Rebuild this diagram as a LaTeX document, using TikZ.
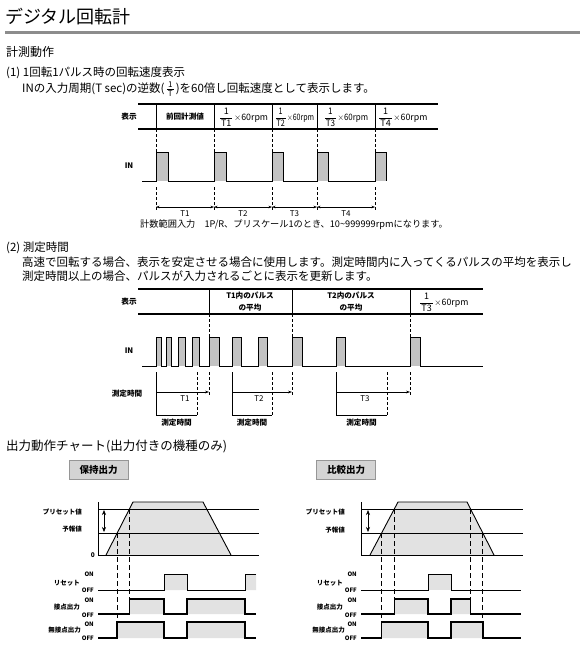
\documentclass[tikz,border=0pt]{standalone}
\usepackage{fontspec}
\setmainfont{Noto Sans CJK JP}
\usetikzlibrary{arrows.meta}
\definecolor{pulsegray}{RGB}{195,195,195}
\definecolor{areagray}{RGB}{226,226,226}
\definecolor{rulegray}{RGB}{140,140,140}
\definecolor{boxgray}{RGB}{212,212,212}
\definecolor{boxedge}{RGB}{150,150,150}
\newcommand\fsz[1]{\fontsize{#1}{#1}\selectfont}
\newcommand\rpmfr[1]{$\displaystyle\frac{\hbox{\fsz{9}1}}{\hbox{\fsz{9}\kern1pt#1\kern1pt}}\kern0.5pt\times$60rpm}
\tikzset{
 txt/.style={anchor=west, inner sep=0pt, font=\fsz{11.5}},
 head/.style={anchor=west, inner sep=0pt, font=\fsz{12}},
 lab/.style={inner sep=0pt, font=\fsz{7.6}\bfseries},
 tlab/.style={inner sep=0pt, font=\fsz{8}},
 flab/.style={inner sep=0pt, font=\fsz{8.8}},
 slab/.style={inner sep=0pt, font=\fsz{6.5}\bfseries, anchor=east},
 onoff/.style={inner sep=0pt, font=\fsz{6}\bfseries, anchor=east},
 displine/.style={line width=1.6pt},
 sep/.style={line width=0.7pt},
 wave/.style={line width=0.9pt},
 vdash/.style={line width=0.6pt, dash pattern=on 3pt off 2pt},
 odash/.style={line width=0.7pt, dash pattern=on 5pt off 3pt},
 dim/.style={line width=0.6pt},
 tip/.style={-{Stealth[length=4pt,width=2.8pt]}},
 tips/.style={{Stealth[length=3.5pt,width=2.6pt]}-{Stealth[length=3.5pt,width=2.6pt]}},
 vtips/.style={{Stealth[length=5pt,width=4pt]}-{Stealth[length=5pt,width=4pt]}},
 sig/.style={line width=1.6pt},
 rst/.style={line width=0.9pt},
 obox/.style={draw=boxedge, fill=boxgray, line width=0.8pt, minimum width=59pt, minimum height=19pt, font=\fsz{9.5}\bfseries, inner sep=0pt},
}
\begin{document}
\begin{tikzpicture}[x=1pt,y=-1pt]
\fill[white] (0,0) rectangle (580,653);
\useasboundingbox (0,0) rectangle (580,653);
% headings
\node[anchor=west, inner sep=0pt, font=\fsz{18}] (title) at (5,17) {デジタル回転計};
\draw[rulegray, line width=3pt] (5,32) -- (580,32);
\node[head] (h1) at (6,52) {計測動作};
\node[txt] (p1) at (6,73) {(1) 1回転1パルス時の回転速度表示};
\node[txt] (p1b) at (22,89) {INの入力周期(T sec)の逆数(\kern1pt$\frac{\hbox{\fsz{8}1}}{\hbox{\fsz{8}\kern1pt T\kern1pt}}$\kern1pt)を60倍し回転速度として表示します。};
% ---------- chart 1
\draw[displine] (138,104) -- (438,104);
\draw[displine] (138,129) -- (438,129);
\foreach \x in {156,214,272,317,375} {
  \draw[sep] (\x,104) -- (\x,129);
  \draw[vdash] (\x,129) -- (\x,152);
  \draw[vdash] (\x,187) -- (\x,210);
}
\node[lab] (c1disp) at (129,117) {表示};
\node[lab] (c1in) at (129,166) {IN};
\node[lab] (c1prev) at (185,117) {前回計測値};
\node[flab] (c1f1) at (243.5,117) {\rpmfr{T1}};
\node[flab] (c1f2) at (294.5,117) {\scalebox{0.8}[1]{\rpmfr{T2}}};
\node[flab] (c1f3) at (346,117) {\scalebox{0.9}[1]{\rpmfr{T3}}};
\node[flab, anchor=west] (c1f4) at (378,117) {\rpmfr{T4}};
\foreach \a/\b in {156/168,214/226,272/283,317/328,375/386}
  \fill[pulsegray] (\a,152) rectangle (\b,181);
\draw[wave] (142,181) foreach \a/\b in {156/168,214/226,272/283,317/328,375/386}{ -- (\a,181) -- (\a,152) -- (\b,152) -- (\b,181)};
\foreach \a/\b/\t in {156/214/T1,214/272/T2,272/317/T3,317/375/T4} {
  \draw[dim, tips] (\a,207) -- (\b,207);
  \node[tlab] at ({(\a+\b)/2},214) {\t};
}
\node[anchor=west, inner sep=0pt, font=\fsz{9.2}] (c1note) at (140,225) {計数範囲入力\quad 1P/R、プリスケール1のとき、10\textasciitilde 999999rpmになります。};
% ---------- section 2 text
\node[txt] (p2) at (6,248) {(2) 測定時間};
\node[txt] (p2b) at (22,262) {高速で回転する場合、表示を安定させる場合に使用します。測定時間内に入ってくるパルスの平均を表示し};
\node[txt] (p2c) at (22,276) {測定時間以上の場合、パルスが入力されるごとに表示を更新します。};
% ---------- chart 2
\draw[displine] (138,289) -- (483,289);
\draw[displine] (138,314) -- (483,314);
\foreach \x in {209,292,410} {
  \draw[sep] (\x,289) -- (\x,314);
  \draw[vdash] (\x,314) -- (\x,337);
}
\node[lab] (c2disp) at (129,302) {表示};
\node[lab] (c2in) at (129,351) {IN};
\node[lab, align=center] (c2a) at (250,302) {T1内のパルス\\[4.5pt]の平均};
\node[lab, align=center] (c2b) at (351,302) {T2内のパルス\\[4.5pt]の平均};
\node[flab, anchor=west] (c2c) at (419,302) {\rpmfr{T3}};
\foreach \a/\b in {156/161,166/171,178/185,192/199,209/219,232/241,258/267,292/302,336/345,410/420}
  \fill[pulsegray] (\a,337) rectangle (\b,366);
\draw[wave] (142,366) foreach \a/\b in {156/161,166/171,178/185,192/199,209/219,232/241,258/267,292/302,336/345,410/420}{ -- (\a,366) -- (\a,337) -- (\b,337) -- (\b,366)} -- (483,366);
\foreach \s/\e/\r/\t/\m in {156/197/209/T1/185,232/272/292/T2/259,336/387/410/T3/365} {
  \draw[dim] (\s,372) -- (\s,415) -- (\e,415);
  \draw[vdash] (\e,372) -- (\e,415);
  \draw[vdash] (\r,372) -- (\r,395);
  \draw[dim, tip] (\s,392) -- (\r,392);
  \node[tlab] at (\m,399) {\t};
  \node[lab] at ({(\s+\e)/2},423) {測定時間};
}
\node[lab] (c2meas) at (127,394) {測定時間};
% ---------- output charts
\node[anchor=west, inner sep=0pt, font=\fsz{12.5}] (h3) at (6,446) {出力動作チャート(出力付きの機種のみ)};
\node[obox] (boxL) at (98.5,469.5) {保持出力};
\node[obox] (boxR) at (346,469.5) {比較出力};
% left chart
\fill[areagray] (106,555) -- (133,502) -- (203,502) -- (231,555) -- cycle;
\draw[wave] (98,502) -- (98,555) -- (259,555);
\draw[wave] (98,509) -- (259,509);
\draw[wave] (98,533) -- (259,533);
\draw[wave] (106,555) -- (133,502) -- (203,502) -- (231,555);
\draw[dim, vtips] (104,510) -- (104,532);
\node[slab] (lpre) at (82,512) {プリセット値};
\node[slab] (lwarn) at (82,529) {予報値};
\node[slab] (lzero) at (95,555) {0};
\fill[areagray] (164,574) rectangle (187,590) (245,574) rectangle (256,590);
\fill[areagray] (129.4,599) rectangle (164,614) (187,599) rectangle (245,614);
\fill[areagray] (117.2,622) rectangle (164,638) (187,622) rectangle (245,638);
\draw[odash] (117.2,533) -- (117.2,638);
\draw[odash] (129.4,509) -- (129.4,599);
\draw[rst] (98,590) -- (164,590) -- (164,574) -- (187,574) -- (187,590) -- (245,590) -- (245,574) -- (256,574);
\draw[sig] (98,614) -- (129.4,614) -- (129.4,599) -- (164,599) -- (164,614) -- (187,614) -- (187,599) -- (245,599) -- (245,614) -- (256,614);
\draw[sig] (98,638) -- (117.2,638) -- (117.2,622) -- (164,622) -- (164,638) -- (187,638) -- (187,622) -- (245,622) -- (245,638) -- (256,638);
\node[onoff] (lon1) at (94,574) {ON};
\node[onoff] (loff1) at (94,590) {OFF};
\node[onoff] (lon2) at (94,600) {ON};
\node[onoff] (loff2) at (94,615) {OFF};
\node[onoff] (lon3) at (94,624) {ON};
\node[onoff] (loff3) at (94,638) {OFF};
\node[slab] (lreset) at (80,583) {リセット};
\node[slab] (lcont) at (80,607) {接点出力};
\node[slab] (lncont) at (81,630) {無接点出力};
% right chart
\fill[areagray] (370,555) -- (398,502) -- (467,502) -- (494,555) -- cycle;
\draw[wave] (361,502) -- (361,555) -- (523,555);
\draw[wave] (361,509) -- (523,509);
\draw[wave] (361,533) -- (523,533);
\draw[wave] (370,555) -- (398,502) -- (467,502) -- (494,555);
\draw[dim, vtips] (368,510) -- (368,532);
\node[slab] (rpre) at (345,512) {プリセット値};
\node[slab] (rwarn) at (345,530) {予報値};
\fill[areagray] (428,574) rectangle (451,590);
\fill[areagray] (394.3,599) rectangle (428,614) (451,599) rectangle (470.6,614);
\fill[areagray] (381.6,622) rectangle (428,638) (451,622) rectangle (482.8,638);
\draw[odash] (381.6,533) -- (381.6,638);
\draw[odash] (394.3,509) -- (394.3,599);
\draw[odash] (470.6,509) -- (470.6,599);
\draw[odash] (482.8,533) -- (482.8,622);
\draw[rst] (361,590) -- (428,590) -- (428,574) -- (451,574) -- (451,590) -- (521,590);
\draw[sig] (361,614) -- (394.3,614) -- (394.3,599) -- (428,599) -- (428,614) -- (451,614) -- (451,599) -- (470.6,599) -- (470.6,614) -- (521,614);
\draw[sig] (361,638) -- (381.6,638) -- (381.6,622) -- (428,622) -- (428,638) -- (451,638) -- (451,622) -- (482.8,622) -- (482.8,638) -- (521,638);
\node[onoff] (ron1) at (357,574) {ON};
\node[onoff] (roff1) at (357,590) {OFF};
\node[onoff] (ron2) at (357,600) {ON};
\node[onoff] (roff2) at (357,615) {OFF};
\node[onoff] (ron3) at (357,624) {ON};
\node[onoff] (roff3) at (357,638) {OFF};
\node[slab] (rreset) at (343,583) {リセット};
\node[slab] (rcont) at (343,607) {接点出力};
\node[slab] (rncont) at (345,630) {無接点出力};
\end{tikzpicture}
\end{document}
